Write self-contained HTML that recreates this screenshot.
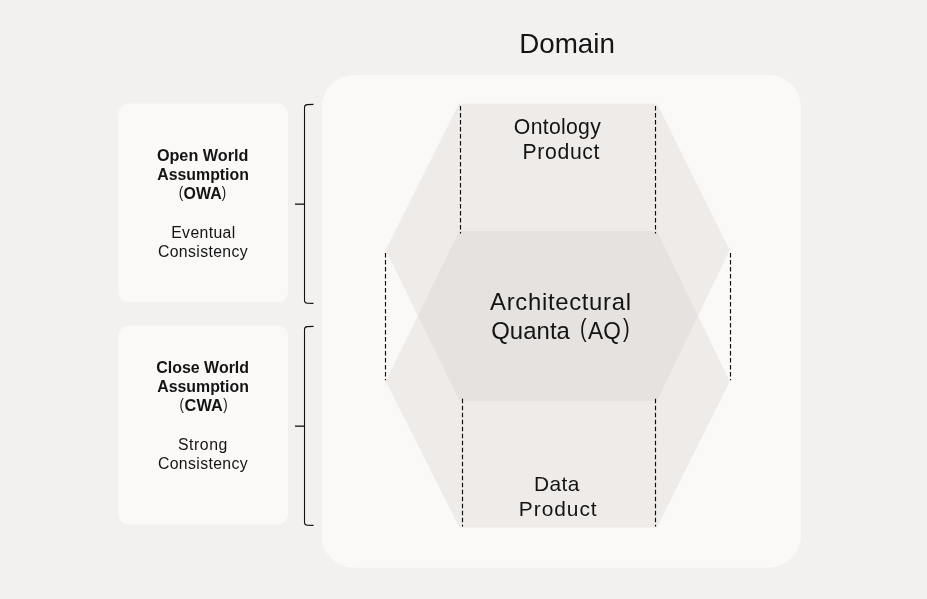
<!DOCTYPE html>
<html>
<head>
<meta charset="utf-8">
<title>Domain</title>
<style>
html,body{margin:0;padding:0;}
body{width:927px;height:599px;overflow:hidden;background:#f2f1f0;font-family:"Liberation Sans",sans-serif;}
svg{display:block;position:absolute;left:0;top:0;}
text{font-family:"Liberation Sans",sans-serif;fill:#141414;}
.b{font-weight:bold;}
</style>
</head>
<body>
<svg width="927" height="599" viewBox="0 0 927 599" style="will-change:transform;transform:translateZ(0)">
  <rect x="0" y="0" width="927" height="599" fill="#f2f1f0"/>
  <!-- domain box -->
  <rect x="321.5" y="75" width="479.5" height="492.8" rx="32.5" ry="32.5" fill="#faf9f8"/>
  <!-- left boxes -->
  <rect x="118.5" y="103.5" width="169.5" height="199" rx="10.5" ry="10.5" fill="#faf9f8"/>
  <rect x="118.5" y="325.5" width="169.5" height="199" rx="10.5" ry="10.5" fill="#faf9f8"/>
  <!-- hexagons -->
  <polygon points="459,103.8 657,103.8 729.7,250 657,400.8 459.6,400.8 385.8,250" fill="#d9d3cf" fill-opacity="0.36"/>
  <polygon points="459.3,231 657,231 729.7,381.5 657,527.5 459.5,527.5 385.8,381.5" fill="#d9d3cf" fill-opacity="0.36"/>
  <!-- dashed lines -->
  <g stroke="#0c0c0c" stroke-width="1.15" stroke-dasharray="4.6 2.4" fill="none">
    <line x1="460.5" y1="106" x2="460.5" y2="233.4"/>
    <line x1="655.5" y1="106" x2="655.5" y2="233.4"/>
    <line x1="385.5" y1="253" x2="385.5" y2="380.2"/>
    <line x1="730.5" y1="253" x2="730.5" y2="380.2"/>
    <line x1="462.5" y1="398.7" x2="462.5" y2="526.4"/>
    <line x1="655.5" y1="398.7" x2="655.5" y2="526.4"/>
  </g>
  <!-- brackets -->
  <g stroke="#111" stroke-width="1.08" fill="none" stroke-linecap="butt" stroke-linejoin="round">
    <path d="M313.5,104.4 L307.2,104.6 Q304.5,104.9 304.5,107.4 L304.5,300.4 Q304.5,302.9 307.2,303.2 L313.5,303.4"/>
    <path d="M304.2,204.15 L295,204.15" stroke-width="1.3"/>
    <path d="M313.5,326.4 L307.2,326.6 Q304.5,326.9 304.5,329.4 L304.5,522.4 Q304.5,524.9 307.2,525.2 L313.5,525.4"/>
    <path d="M304.2,426.15 L295,426.15" stroke-width="1.3"/>
  </g>
  <!-- text -->
  <text x="519.18" y="53.00" font-size="28.10" textLength="95.76" lengthAdjust="spacingAndGlyphs">Domain</text>
  <text class="b" x="156.88" y="161.00" font-size="16.30" textLength="91.51" lengthAdjust="spacingAndGlyphs">Open World</text>
  <text class="b" x="157.26" y="180.00" font-size="16.30" textLength="91.65" lengthAdjust="spacingAndGlyphs">Assumption</text>
  <text x="178.74" y="198.00" font-size="16.60" textLength="4.42" lengthAdjust="spacingAndGlyphs">(</text>
  <text class="b" x="183.61" y="199.00" font-size="16.30" textLength="38.06" lengthAdjust="spacingAndGlyphs">OWA</text>
  <text x="221.86" y="198.00" font-size="16.60" textLength="4.42" lengthAdjust="spacingAndGlyphs">)</text>
  <text x="171.22" y="238.00" font-size="15.80" textLength="64.04" lengthAdjust="spacing">Eventual</text>
  <text x="157.92" y="257.00" font-size="15.80" textLength="89.78" lengthAdjust="spacing">Consistency</text>
  <text class="b" x="156.18" y="373.00" font-size="16.30" textLength="92.89" lengthAdjust="spacingAndGlyphs">Close World</text>
  <text class="b" x="157.26" y="392.00" font-size="16.30" textLength="91.65" lengthAdjust="spacingAndGlyphs">Assumption</text>
  <text x="179.53" y="410.00" font-size="16.60" textLength="4.42" lengthAdjust="spacingAndGlyphs">(</text>
  <text class="b" x="184.50" y="411.00" font-size="16.30" textLength="38.29" lengthAdjust="spacing">CWA</text>
  <text x="223.18" y="410.00" font-size="16.60" textLength="4.42" lengthAdjust="spacingAndGlyphs">)</text>
  <text x="177.90" y="450.00" font-size="15.80" textLength="49.49" lengthAdjust="spacing">Strong</text>
  <text x="157.92" y="469.00" font-size="15.80" textLength="89.78" lengthAdjust="spacing">Consistency</text>
  <text x="513.86" y="134.00" font-size="21.20" textLength="86.94" lengthAdjust="spacing">Ontology</text>
  <text x="522.57" y="159.00" font-size="21.20" textLength="76.88" lengthAdjust="spacing">Product</text>
  <text x="490.11" y="310.00" font-size="23.90" textLength="140.84" lengthAdjust="spacing">Architectural</text>
  <text x="491.22" y="339.00" font-size="23.90" textLength="78.66" lengthAdjust="spacing">Quanta</text>
  <text x="580.05" y="337.00" font-size="24.90" textLength="6.64" lengthAdjust="spacingAndGlyphs">(</text>
  <text x="588.12" y="339.00" font-size="23.90" textLength="32.75" lengthAdjust="spacingAndGlyphs">AQ</text>
  <text x="622.96" y="337.00" font-size="24.90" textLength="6.64" lengthAdjust="spacingAndGlyphs">)</text>
  <text x="534.12" y="491.00" font-size="20.90" textLength="45.15" lengthAdjust="spacing">Data</text>
  <text x="518.81" y="516.00" font-size="20.90" textLength="77.87" lengthAdjust="spacing">Product</text>
</svg>
</body>
</html>
